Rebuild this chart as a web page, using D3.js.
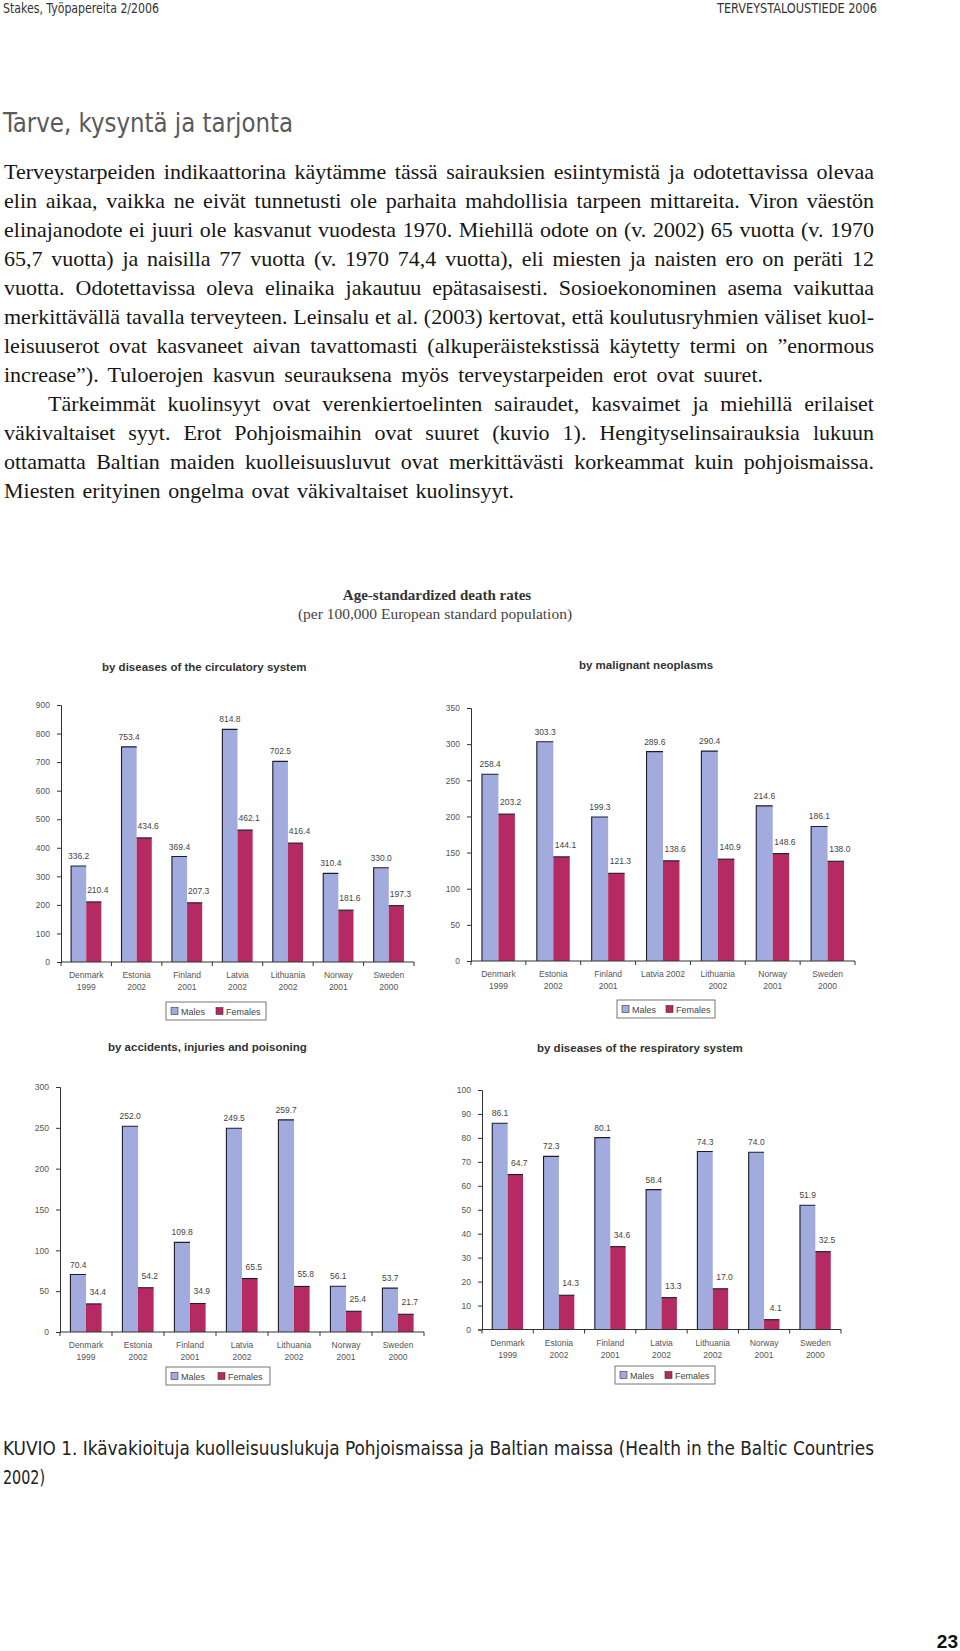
<!DOCTYPE html>
<html><head><meta charset="utf-8">
<script src="https://cdn.jsdelivr.net/npm/d3@7"></script>
<style>body{margin:0;background:#fff} svg{display:block}</style>
</head><body>
<svg id="page" width="960" height="1651"></svg>
<script>
// ---------- DATA ----------
const countries = ["Denmark","Estonia","Finland","Latvia","Lithuania","Norway","Sweden"];
const years = ["1999","2002","2001","2002","2002","2001","2000"];
const seriesNames = ["Males","Females"];

const circulatoryMales   = [336.2, 753.4, 369.4, 814.8, 702.5, 310.4, 330.0];
const circulatoryFemales = [210.4, 434.6, 207.3, 462.1, 416.4, 181.6, 197.3];
const circulatoryTicks   = [0,100,200,300,400,500,600,700,800,900];

const neoplasmMales   = [258.4, 303.3, 199.3, 289.6, 290.4, 214.6, 186.1];
const neoplasmFemales = [203.2, 144.1, 121.3, 138.6, 140.9, 148.6, 138.0];
const neoplasmTicks   = [0,50,100,150,200,250,300,350];

const accidentMales   = [70.4, 252.0, 109.8, 249.5, 259.7, 56.1, 53.7];
const accidentFemales = [34.4, 54.2, 34.9, 65.5, 55.8, 25.4, 21.7];
const accidentTicks   = [0,50,100,150,200,250,300];

const respiratoryMales   = [86.1, 72.3, 80.1, 58.4, 74.3, 74.0, 51.9];
const respiratoryFemales = [64.7, 14.3, 34.6, 13.3, 17.0, 4.1, 32.5];
const respiratoryTicks   = [0,10,20,30,40,50,60,70,80,90,100];

const oneLineCategory = { neoplasm: ["Latvia"] };

const headerLeft = "Stakes, Työpapereita 2/2006";
const headerRight = "TERVEYSTALOUSTIEDE 2006";
const heading = "Tarve, kysyntä ja tarjonta";
const bodyLines = [
 "Terveystarpeiden indikaattorina käytämme tässä sairauksien esiintymistä ja odotettavissa olevaa",
 "elin aikaa, vaikka ne eivät tunnetusti ole parhaita mahdollisia tarpeen mittareita. Viron väestön",
 "elinajanodote ei juuri ole kasvanut vuodesta 1970. Miehillä odote on (v. 2002) 65 vuotta (v. 1970",
 "65,7 vuotta) ja naisilla 77 vuotta (v. 1970 74,4 vuotta), eli miesten ja naisten ero on peräti 12",
 "vuotta. Odotettavissa oleva elinaika jakautuu epätasaisesti. Sosioekonominen asema vaikuttaa",
 "merkittävällä tavalla terveyteen. Leinsalu et al. (2003) kertovat, että koulutusryhmien väliset kuol-",
 "leisuuserot ovat kasvaneet aivan tavattomasti (alkuperäistekstissä käytetty termi on ”enormous",
 "increase”). Tuloerojen kasvun seurauksena myös terveystarpeiden erot ovat suuret.",
 "Tärkeimmät kuolinsyyt ovat verenkiertoelinten sairaudet, kasvaimet ja miehillä erilaiset",
 "väkivaltaiset syyt. Erot Pohjoismaihin ovat suuret (kuvio 1). Hengityselinsairauksia lukuun",
 "ottamatta Baltian maiden kuolleisuusluvut ovat merkittävästi korkeammat kuin pohjoismaissa.",
 "Miesten erityinen ongelma ovat väkivaltaiset kuolinsyyt."
];
const chartTitle = "Age-standardized death rates";
const chartSubtitle = "(per 100,000 European standard population)";
const panelTitles = ["by diseases of the circulatory system","by malignant neoplasms",
  "by accidents, injuries and poisoning","by diseases of the respiratory system"];
const captionLines = ["KUVIO 1. Ikävakioituja kuolleisuuslukuja Pohjoismaissa ja Baltian maissa (Health in the Baltic Countries","2002)"];
const pageNumber = "23";

// ---------- STYLE / LAYOUT ----------
const maleColor = "#A2ABDE", femaleColor = "#B52A62";
const narrow = "'Liberation Sans Narrow','Arial Narrow','DejaVu Sans Condensed',sans-serif";
const serif = "'Liberation Serif','Times New Roman',serif";
const sans = "'Liberation Sans',Arial,sans-serif";

const svg = d3.select("#page");
svg.append("rect").attr("width",960).attr("height",1651).attr("fill","#fff");

// header
svg.append("text").attr("x",3).attr("y",13).attr("font-family",narrow).attr("font-size",13.5)
  .attr("fill","#333").attr("textLength",156).attr("lengthAdjust","spacingAndGlyphs").text(headerLeft);
svg.append("text").attr("x",717).attr("y",13).attr("font-family",narrow)
  .attr("font-size",13.5).attr("fill","#333").attr("textLength",160).attr("lengthAdjust","spacingAndGlyphs").text(headerRight);

// heading
svg.append("text").attr("x",3).attr("y",132).attr("font-family",narrow).attr("font-size",26)
  .attr("fill","#5a5a5a").attr("textLength",290).attr("lengthAdjust","spacingAndGlyphs").text(heading);

// body (justified by word spacing)
const bodyRight = 874;
bodyLines.forEach((line,i)=>{
  const indent = (i===8)?48:4;
  const target = i===7 ? 763 : (i===11 ? 514 : bodyRight);
  const t = svg.append("text").attr("x",indent).attr("y",179+29*i)
    .attr("font-family",serif).attr("font-size",22).attr("fill","#161616").text(line);
  const natural = t.node().getComputedTextLength();
  const spaces = (line.match(/ /g)||[]).length;
  if (spaces>0) t.style("word-spacing", ((target-indent-natural)/spaces)+"px");
});

// chart titles
svg.append("text").attr("x",437).attr("y",600).attr("text-anchor","middle").attr("font-family",serif)
  .attr("font-weight","bold").attr("font-size",15).attr("fill","#333").text(chartTitle);
svg.append("text").attr("x",435).attr("y",619).attr("text-anchor","middle").attr("font-family",serif)
  .attr("font-size",15.5).attr("fill","#444").text(chartSubtitle);

function drawChart(opt){
  const g = svg.append("g");
  g.append("text").attr("x",opt.titleX).attr("y",opt.titleY).attr("font-family",sans)
    .attr("font-weight","bold").attr("font-size",11.5).attr("fill","#333").text(opt.title);

  const x = d3.scaleBand().domain(countries).range([opt.x0,opt.x1]).paddingInner(0.4).paddingOuter(0.2);
  const xs = d3.scaleBand().domain(seriesNames).range([0,x.bandwidth()]);
  const y = d3.scaleLinear().domain([0,d3.max(opt.ticks)]).range([opt.yZero,opt.yTop]);

  // y axis
  const ya = g.append("g").attr("transform",`translate(${opt.x0},0)`)
    .call(d3.axisLeft(y).tickValues(opt.ticks).tickSize(4).tickPadding(7).tickFormat(d3.format("d")));
  ya.select(".domain").attr("stroke","#333");
  ya.selectAll(".tick line").attr("stroke","#333");
  ya.selectAll(".tick text").attr("font-family",sans).attr("font-size",8.5).attr("fill","#555");

  const rows = countries.map((c,i)=>({c, Males: opt.males[i], Females: opt.females[i], year: years[i]}));
  const bars = [];
  rows.forEach(r=>seriesNames.forEach(s=>bars.push({c:r.c, s, v:r[s]})));

  const bx = d => x(d.c)+xs(d.s);
  g.selectAll("rect.bar").data(bars).join("rect").attr("class","bar")
    .attr("x",bx).attr("width",xs.bandwidth())
    .attr("y",d=>y(d.v)).attr("height",d=>y(0)-y(d.v))
    .attr("fill",d=>d.s==="Males"?maleColor:femaleColor);
  g.selectAll("path.edge").data(bars).join("path").attr("class","edge")
    .attr("d",d=> d.s==="Males"
      ? `M${bx(d)},${y(0)}V${y(d.v)}H${bx(d)+xs.bandwidth()}`
      : `M${bx(d)},${y(d.v)}H${bx(d)+xs.bandwidth()}`)
    .attr("fill","none").attr("stroke","#1c1c2c").attr("stroke-width",1.1);

  // value labels
  g.selectAll("text.val").data(bars).join("text").attr("class","val")
    .attr("x",d=>bx(d)+xs.bandwidth()/2+(d.s==="Females"?4:0))
    .attr("y",d=>y(d.v)-(d.s==="Females"?9:7))
    .attr("text-anchor","middle").attr("font-family",sans).attr("font-size",8.5).attr("fill","#444")
    .text(d=>d3.format(".1f")(d.v));

  // x axis
  g.append("line").attr("x1",opt.x0).attr("x2",opt.x1).attr("y1",y(0)).attr("y2",y(0)).attr("stroke","#333");
  const bounds = countries.map(c=>x(c)-x.paddingOuter()*x.step()).concat([opt.x1]);
  g.selectAll("line.xt").data(bounds).join("line").attr("class","xt")
    .attr("x1",d=>d).attr("x2",d=>d).attr("y1",y(0)).attr("y2",y(0)+4).attr("stroke","#333");

  // category labels
  rows.forEach(r=>{
    const cx = x(r.c)+x.bandwidth()/2;
    const t = g.append("text").attr("text-anchor","middle").attr("font-family",sans)
      .attr("font-size",8.5).attr("fill","#555");
    if ((opt.oneLine||[]).includes(r.c)) {
      t.attr("x",cx).attr("y",y(0)+16).text(r.c+" "+r.year);
    } else {
      t.append("tspan").attr("x",cx).attr("y",y(0)+16).text(r.c);
      t.append("tspan").attr("x",cx).attr("y",y(0)+28).text(r.year);
    }
  });

  // legend
  const L = opt.legend;
  const lg = g.append("g").attr("transform",`translate(${L.x},${L.y})`);
  lg.append("rect").attr("width",L.w).attr("height",18).attr("fill","#fff").attr("stroke","#777");
  const offs = [5, L.w*0.5];
  seriesNames.forEach((s,i)=>{
    lg.append("rect").attr("x",offs[i]).attr("y",5.5).attr("width",7).attr("height",7)
      .attr("fill",i===0?maleColor:femaleColor).attr("stroke","#333").attr("stroke-width",0.6);
    lg.append("text").attr("x",offs[i]+10).attr("y",12.5).attr("font-family",sans)
      .attr("font-size",9).attr("fill","#444").text(s);
  });
}

drawChart({title:panelTitles[0], titleX:102, titleY:671, x0:61, x1:414, yZero:962, yTop:705,
  ticks:circulatoryTicks, males:circulatoryMales, females:circulatoryFemales,
  legend:{x:166,y:1002,w:100}});
drawChart({title:panelTitles[1], titleX:579, titleY:669, x0:471, x1:855, yZero:961, yTop:708,
  ticks:neoplasmTicks, males:neoplasmMales, females:neoplasmFemales, oneLine:oneLineCategory.neoplasm,
  legend:{x:617,y:1000,w:98}});
drawChart({title:panelTitles[2], titleX:108, titleY:1051, x0:60, x1:424, yZero:1332, yTop:1087,
  ticks:accidentTicks, males:accidentMales, females:accidentFemales,
  legend:{x:166,y:1367,w:104}});
drawChart({title:panelTitles[3], titleX:537, titleY:1052, x0:482, x1:841, yZero:1329.5, yTop:1090,
  ticks:respiratoryTicks, males:respiratoryMales, females:respiratoryFemales,
  legend:{x:615,y:1366,w:100}});

// caption
svg.append("text").attr("x",3).attr("y",1455).attr("font-family",narrow).attr("font-size",19.5)
  .attr("fill","#222").attr("textLength",871).attr("lengthAdjust","spacingAndGlyphs").text(captionLines[0]);
svg.append("text").attr("x",3).attr("y",1484).attr("font-family",narrow).attr("font-size",19.5)
  .attr("fill","#222").attr("textLength",42).attr("lengthAdjust","spacingAndGlyphs").text(captionLines[1]);

// page number
svg.append("text").attr("x",958).attr("y",1648).attr("text-anchor","end").attr("font-family",sans)
  .attr("font-weight","bold").attr("font-size",19).attr("fill","#111").text(pageNumber);
</script>
</body></html>
